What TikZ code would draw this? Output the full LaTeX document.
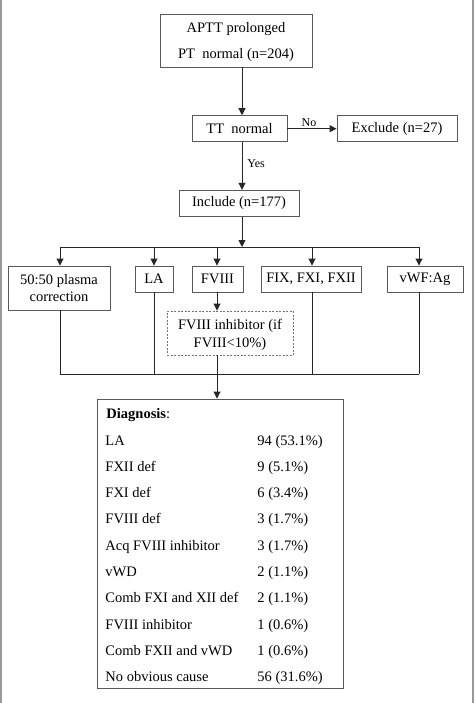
\documentclass[tikz,border=0pt]{standalone}
\usepackage{fontspec}
\setmainfont{Liberation Serif}
\usetikzlibrary{arrows.meta,positioning}

\begin{document}
\begin{tikzpicture}[x=1pt, y=-1pt, line width=0.9pt,
    box/.style={draw=black!65, inner sep=0pt, align=center, text=black,
                font=\fontsize{14.5}{17}\selectfont},
    arr/.style={-{Triangle[length=7pt,width=7pt]}, draw=black!85},
    lbl/.style={font=\fontsize{12}{14}\selectfont},
    row/.style={anchor=base west, inner sep=0pt, font=\fontsize{14.5}{17}\selectfont}]

    % --- 画布大小与两侧灰边 ---
    \useasboundingbox (0,0) rectangle (474,703);
    \fill[black!40] (0,0) rectangle (2,703);
    \fill[black!40] (472,0) rectangle (474,703);

    % --- 1. 上部流程 ---
    % 主干的 x 位置
    \coordinate (main) at (242,0);
    \node[box, minimum width=152pt, minimum height=53pt, text depth=0pt,
          font=\fontsize{14.5}{26}\selectfont] (start) at (236,40.5)
        {APTT prolonged\\PT\ \ normal (n=204)};
    \node[box, minimum width=95pt, minimum height=26pt] (tt) at (239.5,128.7) {TT\ \ normal};
    \node[box, minimum width=120pt, minimum height=26pt] (excl) at (397,128.7) {Exclude (n=27)};
    \node[box, minimum width=120pt, minimum height=26.5pt] (inc) at (239,203.5) {Include (n=177)};

    \draw[arr] (start.south -| main) -- (tt.north -| main);
    \draw[arr] (tt) -- node[lbl, above, inner sep=1.5pt, xshift=-3pt] {No} (excl);
    \draw[arr] (tt.south -| main) -- node[lbl, right, inner sep=5pt, yshift=2pt] {Yes} (inc.north -| main);

    % --- 2. 分支：五项检查 ---
    \coordinate (bus) at (242,247);
    \coordinate (low) at (242,374);
    \draw[arr] (inc.south -| main) -- (bus);

    \node[box, minimum width=102pt, minimum height=44pt, text depth=0pt] (pc) at (59,288) {50:50 plasma\\correction};
    \node[box, minimum width=38pt, minimum height=26pt] (la) at (154,279) {LA};
    \node[box, minimum width=51pt, minimum height=26pt] (f8) at (217.5,279) {FVIII};
    \node[box, minimum width=100pt, minimum height=26pt] (fx) at (311,279) {FIX, FXI, FXII};
    \node[box, minimum width=76pt, minimum height=26pt] (vw) at (425,279) {vWF:Ag};

    % 每个分支箭头的 x 位置
    \foreach \n/\x in {pc/60, la/154, f8/217, fx/312, vw/419}
        \coordinate (x\n) at (\x,247);

    \draw[draw=black!85] (xpc) -- (xvw);
    \foreach \n in {pc, la, f8, fx, vw}
        \draw[arr] (x\n) -- (\n.north -| x\n);

    % FVIII 抑制物（虚线框）
    \node[box, dash pattern=on 2pt off 1.5pt, draw=black!55, minimum width=126pt, minimum height=44pt,
          text depth=0pt, font=\fontsize{14.5}{18}\selectfont] (inh) at (230,333) {FVIII inhibitor (if\\FVIII<10\%)};
    \draw[arr] (f8.south -| xf8) -- (inh.north -| xf8);

    % --- 3. 汇总线 ---
    \foreach \n in {pc, la, fx, vw}
        \draw[draw=black!85] (\n.south -| x\n) -- (low -| x\n);
    \draw[draw=black!85] (low -| xpc) -- (low -| xvw);

    % --- 4. 诊断结果框 ---
    \node[box, minimum width=246pt, minimum height=289pt] (diag) at (220,543.5) {};
    \draw[arr] (inh.south -| xf8) -- (diag.north -| xf8);

    \node[row] (dhead) at (106,418) {\textbf{Diagnosis}:};
    \foreach \lab/\val [count=\i] in {LA/94 (53.1\%), FXII def/9 (5.1\%), FXI def/6 (3.4\%),
        FVIII def/3 (1.7\%), Acq FVIII inhibitor/3 (1.7\%), vWD/2 (1.1\%),
        Comb FXI and XII def/2 (1.1\%), FVIII inhibitor/1 (0.6\%),
        Comb FXII and vWD/1 (0.6\%), No obvious cause/56 (31.6\%)} {
        \node[row] (d\i) at (105,{445+26.3*(\i-1)}) {\lab};
        \node[row] (v\i) at (257,{445+26.3*(\i-1)}) {\val};
    }

\end{tikzpicture}
\end{document}
